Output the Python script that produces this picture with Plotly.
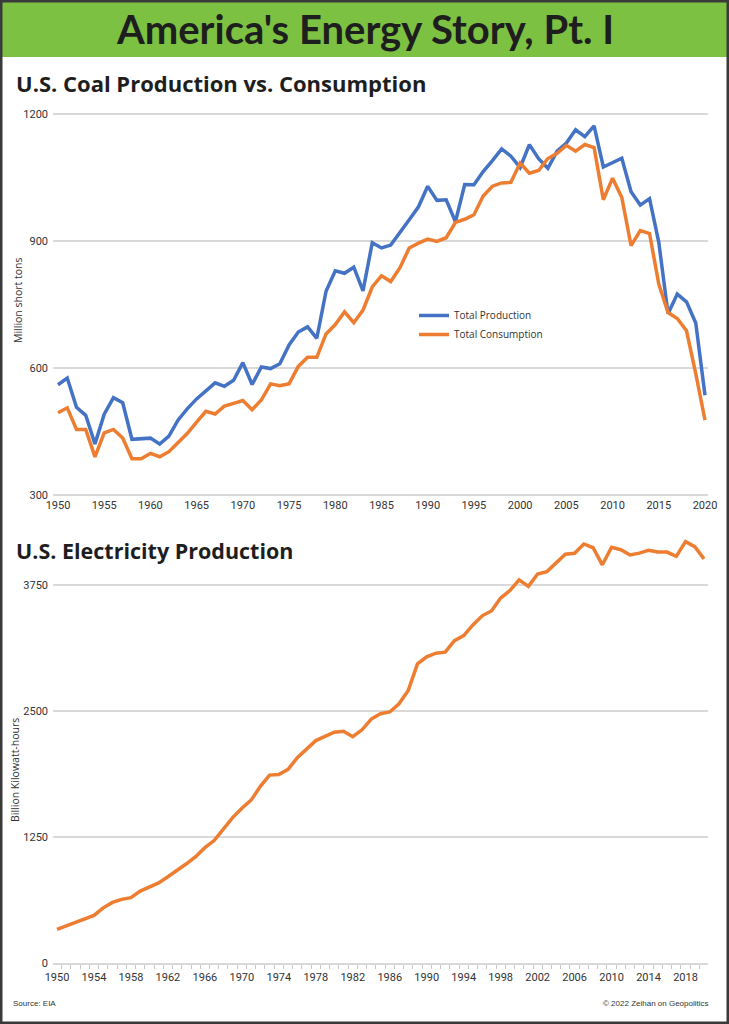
import plotly.graph_objects as go

W, H = 729, 1024

# ---------------- data ----------------
coal_years = list(range(1950, 2021))
coal_production = [
    560.4, 576.3, 507.4, 488.2, 420.8, 490.8, 529.8, 518.0, 431.6, 432.7,
    434.3, 420.4, 439.0, 477.2, 504.2, 527.0, 546.8, 564.9, 556.7, 571.0,
    612.7, 560.9, 602.5, 598.6, 610.0, 654.6, 684.9, 697.2, 670.2, 781.1,
    829.7, 823.8, 838.1, 782.1, 895.9, 883.6, 890.3, 918.8, 950.3, 980.7,
    1029.1, 996.0, 997.5, 945.4, 1033.5, 1033.0, 1063.9, 1089.9, 1117.5, 1100.4,
    1073.6, 1127.7, 1094.3, 1071.8, 1112.1, 1131.5, 1162.7, 1146.6, 1171.8, 1074.9,
    1084.4, 1095.6, 1016.5, 984.8, 1000.0, 896.9, 728.4, 774.6, 756.2, 706.3,
    535.4,
]
coal_consumption = [
    494.1, 505.9, 454.8, 454.8, 390.0, 447.0, 454.9, 434.8, 385.6, 385.6,
    398.1, 390.4, 402.3, 423.5, 445.7, 472.0, 497.7, 491.4, 509.8, 516.4,
    523.2, 501.6, 524.3, 562.6, 558.4, 562.6, 603.8, 625.3, 625.2, 680.5,
    702.7, 732.6, 706.9, 736.7, 791.3, 818.0, 804.2, 836.9, 883.6, 894.9,
    904.5, 899.2, 907.7, 944.1, 951.3, 962.1, 1006.3, 1029.5, 1037.1, 1038.6,
    1084.1, 1060.1, 1066.4, 1094.9, 1107.3, 1126.0, 1112.3, 1128.0, 1120.5, 997.5,
    1048.5, 1002.9, 889.2, 924.4, 917.7, 798.1, 731.1, 716.9, 687.9, 586.5,
    476.7,
]
coal_ticks = [1950, 1955, 1960, 1965, 1970, 1975, 1980, 1985, 1990, 1995,
              2000, 2005, 2010, 2015, 2020]
coal_yticks = [300, 600, 900, 1200]

elec_years = list(range(1950, 2021))
elec_production = [
    334.1, 370.7, 399.2, 442.7, 471.7, 547.0, 600.6, 631.5, 648.5, 713.4,
    755.5, 794.5, 855.6, 916.8, 984.4, 1055.3, 1144.4, 1214.4, 1329.4, 1442.2,
    1535.1, 1615.9, 1753.0, 1864.1, 1870.3, 1920.8, 2037.7, 2124.3, 2206.3, 2247.4,
    2289.6, 2298.0, 2244.4, 2313.4, 2419.5, 2473.0, 2490.5, 2572.1, 2704.3, 2967.1,
    3037.8, 3073.8, 3083.9, 3197.2, 3247.5, 3353.5, 3444.2, 3492.2, 3620.3, 3694.8,
    3802.1, 3736.6, 3858.5, 3883.2, 3970.6, 4055.4, 4064.7, 4156.7, 4119.4, 3950.3,
    4125.1, 4100.1, 4047.8, 4066.0, 4093.6, 4077.6, 4076.7, 4034.3, 4180.0, 4130.0,
    4009.5,
]
elec_ticks = [1950, 1954, 1958, 1962, 1966, 1970, 1974, 1978, 1982, 1986,
              1990, 1994, 1998, 2002, 2006, 2010, 2014, 2018]
elec_yticks = [0, 1250, 2500, 3750]

# ---------------- style ----------------
BLUE = "#4472C4"
ORANGE = "#ED7D31"
GREEN = "#7DC143"
GRID = "#D9D9D9"
TXT = "#2b2b2b"
TICKFONT = dict(family="Liberation Sans Narrow, Arial Narrow, Roboto, sans-serif", size=11, color="#333333")


def px_x(px):
    return px / W


def px_y(py):
    return 1 - py / H


fig = go.Figure()
fig.add_trace(go.Scatter(x=coal_years, y=coal_production, mode="lines", name="Total Production",
                         line=dict(color=BLUE, width=3.5), xaxis="x", yaxis="y"))
fig.add_trace(go.Scatter(x=coal_years, y=coal_consumption, mode="lines", name="Total Consumption",
                         line=dict(color=ORANGE, width=3.5), xaxis="x", yaxis="y"))
fig.add_trace(go.Scatter(x=elec_years, y=elec_production, mode="lines", name="Electricity",
                         line=dict(color=ORANGE, width=3.5), xaxis="x2", yaxis="y2",
                         showlegend=False))

# top chart geometry: 1950 at px 58, 2020 at px 705 ; 1200 at py 114, 300 at py 495
top_ppy = (705 - 58) / 70.0
top_xr = [1950 - (58 - 53) / top_ppy, 2020 + (708 - 705) / top_ppy]
top_ppu = (495 - 114) / 900.0
top_yr = [295, 1205]
top_dom_y = [px_y(495 + 5 * top_ppu), px_y(114 - 5 * top_ppu)]

# bottom chart: 1950 at px 57, 2020 at px 704 ; 0 at py 963, 3750 at py 585
bot_ppy = (704 - 57) / 70.0
bot_xr = [1950 - (57 - 53) / bot_ppy, 2020 + (708 - 704) / bot_ppy]
bot_ppu = (963 - 585) / 3750.0
bot_yr = [0, 4250]
bot_dom_y = [px_y(963), px_y(963 - 4250 * bot_ppu)]

fig.update_layout(
    width=W, height=H, autosize=False,
    margin=dict(l=0, r=0, t=0, b=0, pad=0, autoexpand=False),
    paper_bgcolor="white", plot_bgcolor="white",
    font=dict(family="Liberation Sans Narrow, Arial Narrow, Roboto, sans-serif", color=TXT),
    xaxis=dict(domain=[px_x(53), px_x(708)], range=top_xr, anchor="y", automargin=False,
               tickmode="array", tickvals=coal_ticks, ticktext=[str(t) for t in coal_ticks],
               showgrid=False, zeroline=False, showline=False, ticks="",
               tickfont=TICKFONT),
    yaxis=dict(domain=top_dom_y, range=top_yr, anchor="x", automargin=False,
               tickmode="array", tickvals=coal_yticks, ticktext=[str(t) for t in coal_yticks],
               showgrid=True, gridcolor=GRID, gridwidth=1.5, zeroline=False, showline=False,
               ticks="", ticklabelstandoff=4, tickfont=TICKFONT),
    xaxis2=dict(domain=[px_x(53), px_x(708)], range=bot_xr, anchor="y2", automargin=False,
                tickmode="array", tickvals=elec_ticks, ticktext=[str(t) for t in elec_ticks],
                showgrid=False, zeroline=False, showline=True, linecolor=GRID, linewidth=1.5,
                ticks="", minor=dict(tick0=1949.5, dtick=1, ticks="outside", ticklen=4,
                                      tickcolor="#C8C8C8", tickwidth=1, showgrid=False),
                ticklabelstandoff=3, tickfont=TICKFONT),
    yaxis2=dict(domain=bot_dom_y, range=bot_yr, anchor="x2", automargin=False,
                tickmode="array", tickvals=elec_yticks, ticktext=[str(t) for t in elec_yticks],
                showgrid=True, gridcolor=GRID, gridwidth=1.5, zeroline=False, showline=False,
                ticks="", ticklabelstandoff=4, tickfont=TICKFONT),
    legend=dict(x=px_x(414), y=px_y(301), xanchor="left", yanchor="top",
                bgcolor="rgba(0,0,0,0)", borderwidth=0, tracegroupgap=0,
                font=dict(family="Open Sans, sans-serif", size=10, color="#333333")),
    showlegend=True,
)

shapes = [
    dict(type="rect", xref="paper", yref="paper", x0=0, x1=1, y0=px_y(57), y1=1,
         fillcolor=GREEN, line=dict(width=0), layer="below"),
    dict(type="rect", xref="paper", yref="paper", x0=0, x1=1, y0=0, y1=1,
         fillcolor="rgba(0,0,0,0)", line=dict(color="#3a3a3a", width=5), layer="above"),
]
fig.update_layout(shapes=shapes)

ann = []
ann.append(dict(text="<b>America's Energy Story, Pt. I</b>", x=0.5, y=px_y(29), xref="paper", yref="paper",
                xanchor="center", yanchor="middle", showarrow=False,
                font=dict(family="Lato, sans-serif", size=40, color="#1e1e1e")))
ann.append(dict(text="<b>U.S. Coal Production vs. Consumption</b>", x=px_x(14), y=px_y(83), xref="paper",
                yref="paper", xanchor="left", yanchor="middle", showarrow=False,
                font=dict(family="Open Sans, sans-serif", size=22, color="#1e1e1e")))
ann.append(dict(text="<b>U.S. Electricity Production</b>", x=px_x(14), y=px_y(550), xref="paper",
                yref="paper", xanchor="left", yanchor="middle", showarrow=False,
                font=dict(family="Open Sans, sans-serif", size=21.5, color="#1e1e1e")))
ann.append(dict(text="Million short tons", x=px_x(18), y=px_y(300), xref="paper", yref="paper",
                xanchor="center", yanchor="middle", textangle=-90, showarrow=False,
                font=dict(family="Open Sans, sans-serif", size=10.5, color="#333333")))
ann.append(dict(text="Billion Kilowatt-hours", x=px_x(15), y=px_y(770), xref="paper", yref="paper",
                xanchor="center", yanchor="middle", textangle=-90, showarrow=False,
                font=dict(family="Open Sans, sans-serif", size=10.5, color="#333333")))
ann.append(dict(text="Source: EIA", x=px_x(11), y=px_y(1003), xref="paper", yref="paper",
                xanchor="left", yanchor="middle", showarrow=False,
                font=dict(family="Liberation Sans Narrow, sans-serif", size=8, color="#333333")))
ann.append(dict(text="© 2022 Zeihan on Geopolitics", x=px_x(711), y=px_y(1003), xref="paper", yref="paper",
                xanchor="right", yanchor="middle", showarrow=False,
                font=dict(family="Liberation Sans Narrow, sans-serif", size=8, color="#333333")))
fig.update_layout(annotations=ann)

page_js = (
    "document.documentElement.style.margin='0';document.documentElement.style.overflow='hidden';"
    "document.body.style.margin='0';document.body.style.overflow='hidden';"
)
fig.write_html("out.html", config={"displayModeBar": False}, post_script=page_js)
